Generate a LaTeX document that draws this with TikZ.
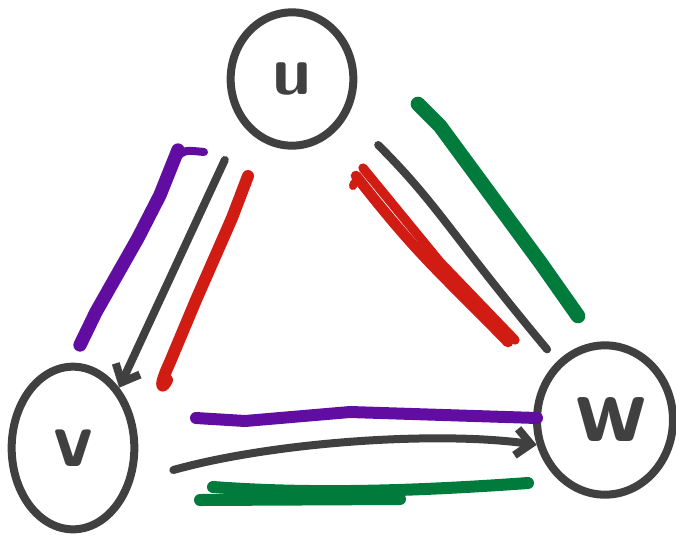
\documentclass[tikz,border=0pt]{standalone}
\usepackage{tikz}
\usetikzlibrary{arrows.meta,shapes.geometric}

\definecolor{ink}{HTML}{404040}
\definecolor{hlpurple}{HTML}{620DA2}
\definecolor{hlred}{HTML}{D11C14}
\definecolor{hlgreen}{HTML}{007B3C}

\begin{document}
\begin{tikzpicture}[
  x=0.75pt, y=-0.75pt,
  vtx/.style={draw=ink, ellipse, line width=6pt, inner sep=0pt,
              text=ink, font=\sffamily\bfseries},
  edge/.style={draw=ink, line width=6pt, line cap=round},
  hl/.style={line width=#1, line cap=round, line join=round},
  >={Straight Barb[length=11pt, width=20pt, line width=6pt]}
]
\useasboundingbox (0,0) rectangle (676,537);

% vertices
\node[vtx, minimum width=92pt, minimum height=100pt,
      font=\sffamily\bfseries\fontsize{52}{52}\selectfont] (u) at (292,79) {\raisebox{-4pt}{u}};
\node[vtx, minimum width=92pt, minimum height=122pt,
      font=\sffamily\bfseries\fontsize{60}{60}\selectfont] (v) at (73,448) {\raisebox{-10pt}{v}};
\node[vtx, minimum width=102pt, minimum height=112pt,
      font=\sffamily\bfseries\fontsize{72}{72}\selectfont] (w) at (605,420) {\hspace{10pt}w};

% highlights along u--v
\draw[hl=10pt, hlpurple] (80,345) -- (96,312) -- (138,238) -- (160,195) -- (178,150);
\draw[hl=6pt, hlpurple] (176,158) .. controls (184,150) .. (204,152);
\draw[hl=9pt, hlred] (248,176) -- (232,218) -- (196,300) -- (170,362) .. controls (158,388) and (162,390) .. (167,380);

% highlights along u--w
\draw[hl=11pt, hlgreen] (418,104) -- (440,126) -- (540,262) -- (578,316);
\draw[hl=7pt, hlred] (363,168) -- (440,262) -- (515,340);
\draw[hl=8pt, hlred] (356,176) .. controls (420,258) and (440,272) .. (508,342);
\draw[hl=6pt, hlred] (353,186) -- (354,183);

% highlights along v--w
\draw[hl=9pt, hlpurple] (196,418) -- (245,421) -- (350,412) -- (537,418);
\draw[hl=9pt, hlgreen] (213,487) .. controls (320,495) and (430,490) .. (528,483);
\draw[hl=9pt, hlgreen] (200,500) -- (400,499);

% edges
\draw[edge, ->] ([shift={(-21,31)}]u.south west) -- (v.north east);
\draw[edge] ([shift={(40,16)}]u.south east) .. controls +(60,60) and +(-100,-120) .. ([shift={(-7,-15)}]w.north west);
\draw[edge, ->] ([shift={(35,22)}]v.east) .. controls +(100,-28) and +(-100,-14) .. (w.200);
\end{tikzpicture}
\end{document}
